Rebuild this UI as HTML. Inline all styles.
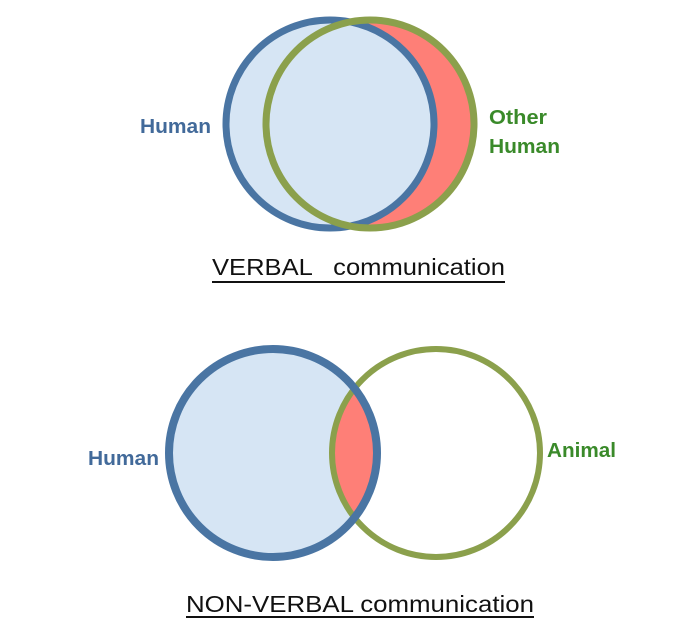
<!DOCTYPE html>
<html><head><meta charset="utf-8"><style>body{margin:0;background:#fff}svg{display:block}</style></head>
<body>
<svg width="700" height="640" xmlns="http://www.w3.org/2000/svg" font-family="Liberation Sans, sans-serif">
<defs>
<clipPath id="b2"><circle cx="273" cy="453" r="103"/></clipPath>
</defs>
<!-- top -->
<circle cx="370" cy="124" r="104" fill="#fe7f77"/>
<circle cx="330" cy="124" r="104" fill="#d6e5f4"/>
<circle cx="330" cy="124" r="104" fill="none" stroke="#4a75a3" stroke-width="7"/>
<circle cx="370" cy="124" r="104" fill="none" stroke="#8ba04c" stroke-width="7"/>
<text x="140" y="133" font-size="20" font-weight="bold" fill="#426a9a" textLength="71" lengthAdjust="spacingAndGlyphs">Human</text>
<text x="489" y="124" font-size="20" font-weight="bold" fill="#3a8a2a" textLength="58" lengthAdjust="spacingAndGlyphs">Other</text>
<text x="489" y="153" font-size="20" font-weight="bold" fill="#3a8a2a" textLength="71" lengthAdjust="spacingAndGlyphs">Human</text>
<text x="212" y="275" font-size="23" fill="#111" textLength="293" lengthAdjust="spacingAndGlyphs" xml:space="preserve">VERBAL   communication</text>
<rect x="212" y="281" width="293" height="2" fill="#111"/>
<!-- bottom -->
<circle cx="273" cy="453" r="103" fill="#d6e5f4"/>
<circle cx="436" cy="453" r="104" fill="#fe7f77" clip-path="url(#b2)"/>
<circle cx="436" cy="453" r="104" fill="none" stroke="#8ba04c" stroke-width="6"/>
<circle cx="273" cy="453" r="104" fill="none" stroke="#4a75a3" stroke-width="8"/>
<text x="88" y="465" font-size="20" font-weight="bold" fill="#426a9a" textLength="71" lengthAdjust="spacingAndGlyphs">Human</text>
<text x="547" y="457" font-size="20" font-weight="bold" fill="#3a8a2a" textLength="69" lengthAdjust="spacingAndGlyphs">Animal</text>
<text x="186" y="612" font-size="23" fill="#111" textLength="348" lengthAdjust="spacingAndGlyphs">NON-VERBAL communication</text>
<rect x="186" y="616" width="348" height="2" fill="#111"/>
</svg>
</body></html>
